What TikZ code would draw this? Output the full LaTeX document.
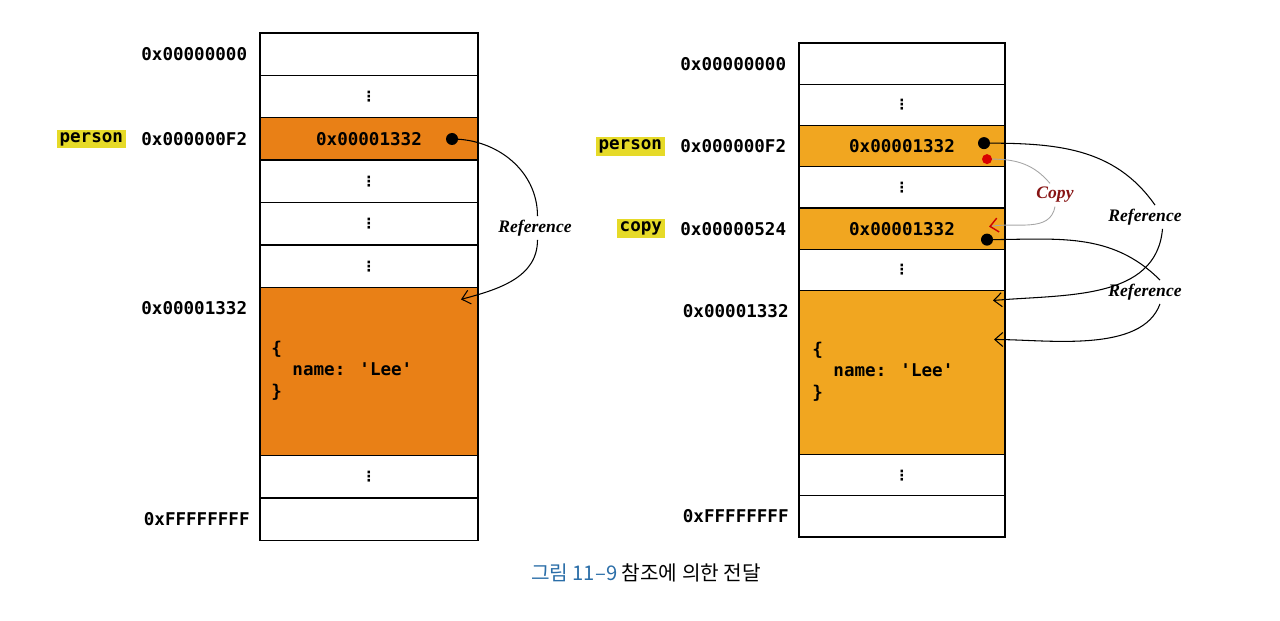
\documentclass[tikz,border=0pt]{standalone}
\usepackage{fontspec}
\newfontfamily\codefont{DejaVu Sans Mono}
\newfontfamily\symfont{DejaVu Sans}
\newfontfamily\labelfont{Liberation Serif}
\newfontfamily\krfont{Noto Sans CJK KR}
\usetikzlibrary{positioning, arrows.meta}

\definecolor{orangeL}{RGB}{233,128,22}
\definecolor{orangeR}{RGB}{241,166,32}
\definecolor{tagyellow}{RGB}{230,218,40}
\definecolor{copyred}{RGB}{135,20,20}
\definecolor{capblue}{RGB}{43,110,168}

\newcommand{\rowdots}{{\symfont\bfseries\fontsize{8}{8}\selectfont ⋮}}

\begin{document}
\begin{tikzpicture}[
    cell/.style={rectangle, draw=black, line width=0.8pt, outer sep=0pt, inner sep=0pt},
    lcell/.style={cell, minimum width=4.36cm, minimum height=0.848cm},
    rcell/.style={cell, minimum width=4.12cm, minimum height=0.825cm},
    hotL/.style={fill=orangeL},
    hotR/.style={fill=orangeR},
    gap/.style={label={[inner sep=0pt]center:\rowdots}},
    value/.style={label={[inner sep=0pt, font=\codefont\bfseries]center:#1}},
    addr/.style={font=\codefont\bfseries, inner sep=0pt},
    tag/.style={font=\codefont\bfseries, fill=tagyellow, inner sep=1.5pt},
    code/.style={font=\codefont\bfseries\fontsize{10}{12.4}\selectfont, align=left, inner sep=0pt, anchor=north west},
    ptr/.style={circle, fill=black, inner sep=0pt, minimum size=0.24cm},
    refarrow/.style={line width=0.6pt, -{Straight Barb[length=1.6mm, width=2.8mm]}},
    refline/.style={line width=0.6pt},
    reflabel/.style={font=\labelfont\bfseries\itshape\fontsize{10}{12}\selectfont, inner sep=2pt}
]
\useasboundingbox (0,0) rectangle (25.6,-12.42);

%=== LEFT: person holds the address of the object ===
\begin{scope}
    \node[lcell, anchor=north] (L0) at (7.38,-0.66) {};
    \node[lcell, gap, below=0pt of L0] (L1) {};
    \node[lcell, hotL, value=0x00001332, below=0pt of L1] (L2) {};
    \node[lcell, gap, below=0pt of L2] (L3) {};
    \node[lcell, gap, below=0pt of L3] (L4) {};
    \node[lcell, gap, below=0pt of L4] (L5) {};
    \node[lcell, hotL, minimum height=3.36cm, below=0pt of L5] (L6) {};
    \node[lcell, gap, below=0pt of L6] (L7) {};
    \node[lcell, below=0pt of L7] (L8) {};

    % addresses on the left
    \node[addr, left=0.25cm of L0] (La0) {0x00000000};
    \node[addr, left=0.25cm of L2] (La2) {0x000000F2};
    \node[tag, left=0.3cm of La2] (Lperson) {person};
    \node[addr, anchor=east] (La6) at ([xshift=-0.25cm, yshift=-0.42cm]L6.north west) {0x00001332};
    \node[addr, left=0.2cm of L8] (La8) {0xFFFFFFFF};

    % object body
    \node[code] (Lobj) at ([xshift=0.22cm, yshift=-1.06cm]L6.north west)
        {\{\\\hspace*{1.2em}name: 'Lee'\\\}};

    % reference
    \node[ptr] (Lp) at ([xshift=-0.52cm]L2.east) {};
    \coordinate (Ltip) at ([xshift=-0.34cm, yshift=-0.24cm]L6.north east);
    \node[reflabel] (Lref) at (10.7,-4.56) {Reference};
    \draw[refline] (Lp.center) to[out=0, in=90] ([xshift=0.05cm]Lref.north);
    \draw[refarrow] ([xshift=0.05cm]Lref.south) to[out=-90, in=15] (Ltip);
\end{scope}

%=== RIGHT: copy gets the same address ===
\begin{scope}
    \node[rcell, anchor=north] (R0) at (18.04,-0.86) {};
    \node[rcell, gap, below=0pt of R0] (R1) {};
    \node[rcell, hotR, value=0x00001332, below=0pt of R1] (R2) {};
    \node[rcell, gap, below=0pt of R2] (R3) {};
    \node[rcell, hotR, value=0x00001332, below=0pt of R3] (R4) {};
    \node[rcell, gap, below=0pt of R4] (R5) {};
    \node[rcell, hotR, minimum height=3.28cm, below=0pt of R5] (R6) {};
    \node[rcell, gap, below=0pt of R6] (R7) {};
    \node[rcell, below=0pt of R7] (R8) {};

    % addresses on the left
    \node[addr, left=0.25cm of R0] (Ra0) {0x00000000};
    \node[addr, left=0.25cm of R2] (Ra2) {0x000000F2};
    \node[tag, left=0.3cm of Ra2] (Rperson) {person};
    \node[addr, left=0.25cm of R4] (Ra4) {0x00000524};
    \node[tag, left=0.3cm of Ra4] (Rcopy) {copy};
    \node[addr, anchor=east] (Ra6) at ([xshift=-0.2cm, yshift=-0.42cm]R6.north west) {0x00001332};
    \node[addr, left=0.2cm of R8] (Ra8) {0xFFFFFFFF};

    % object body
    \node[code] (Robj) at ([xshift=0.26cm, yshift=-1.02cm]R6.north west)
        {\{\\\hspace*{1.2em}name: 'Lee'\\\}};

    % pointers
    \node[ptr] (Rp1) at ([xshift=-0.42cm, yshift=0.06cm]R2.east) {};
    \node[ptr, fill=red!85!black, minimum size=0.2cm] (Rc) at ([xshift=-0.36cm, yshift=-0.26cm]R2.east) {};
    \node[ptr] (Rp2) at ([xshift=-0.36cm, yshift=-0.22cm]R4.east) {};
    \coordinate (Rctip) at ([xshift=-0.32cm, yshift=0.04cm]R4.east);
    \coordinate (Rtip1) at ([xshift=-0.24cm, yshift=-0.2cm]R6.north east);
    \coordinate (Rtip2) at ([xshift=-0.22cm, yshift=-0.98cm]R6.north east);

    % copy of the value
    \node[reflabel, text=copyred] (Rcopylbl) at (21.1,-3.9) {Copy};
    \draw[line width=0.5pt, gray!70] (Rc.east) to[out=0, in=130] ([xshift=-0.1cm]Rcopylbl.north);
    \draw[line width=0.5pt, gray!70, -{Straight Barb[length=1.6mm, width=2.8mm, line width=0.8pt, red!80!black]}]
        (Rcopylbl.south) to[out=-100, in=10] (Rctip);

    % both references point at the object
    \node[reflabel] (Rref1) at (22.9,-4.34) {Reference};
    \node[reflabel] (Rref2) at (22.9,-5.84) {Reference};
    \draw[refline] (Rp1.center) to[out=0, in=125] ([xshift=0.2cm]Rref1.north);
    \draw[refarrow] ([xshift=0.35cm]Rref1.south) to[out=-95, in=5] (Rtip1);
    \draw[refline] (Rp2.center) to[out=0, in=135] ([xshift=0.3cm]Rref2.north);
    \draw[refarrow] ([xshift=0.3cm]Rref2.south) to[out=-110, in=0, looseness=0.8] (Rtip2);
\end{scope}

% caption
\node[font=\krfont\fontsize{11.5}{13}\selectfont] (cap) at (12.92,-11.46)
    {\textcolor{capblue}{그림 11–9} 참조에 의한 전달};

\end{tikzpicture}
\end{document}
